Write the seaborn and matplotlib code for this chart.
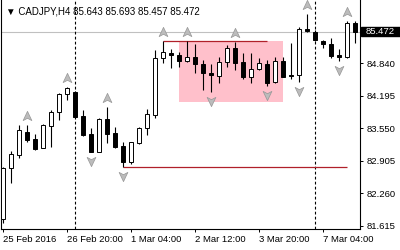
import numpy as np
import pandas as pd
import seaborn as sns
import matplotlib
matplotlib.use("Agg")
import matplotlib.pyplot as plt
from matplotlib.path import Path
from matplotlib.patches import Rectangle
import matplotlib.transforms as mtransforms

# ---------------- data ----------------
symbol_title = "\u25BC CADJPY,H4 85.643 85.693 85.457 85.472"
opens = [81.754, 82.760, 83.024, 83.486, 83.342, 83.169, 83.605, 83.871, 84.229, 84.268,
         83.798, 83.441, 83.089, 83.738, 83.455, 83.203, 82.875, 83.256, 83.554, 83.818,
         84.943, 85.042, 85.008, 84.889, 84.963, 84.824, 84.657, 84.592, 84.876, 85.141,
         84.864, 84.566, 84.725, 84.824, 84.473, 84.889, 84.612, 84.612, 85.518, 85.471,
         85.292, 85.227, 85.008, 84.963, 85.643]
highs = [82.790, 83.109, 83.619, 83.619, 83.441, 83.639, 83.917, 84.260, 84.379, 84.284,
         83.917, 83.560, 83.758, 83.971, 83.574, 83.288, 83.288, 83.574, 83.931, 85.108,
         85.292, 85.128, 85.074, 85.282, 85.227, 84.909, 84.824, 84.975, 85.207, 85.272,
         85.042, 85.042, 84.943, 84.909, 84.975, 84.975, 85.241, 85.570, 85.822, 85.495,
         85.306, 85.340, 85.122, 85.689, 85.693]
lows = [81.675, 82.474, 82.958, 83.288, 83.123, 83.157, 83.189, 83.719, 84.115, 83.772,
        83.401, 83.074, 83.083, 83.256, 83.157, 82.792, 82.839, 83.242, 83.421, 83.752,
        84.856, 84.745, 84.780, 84.870, 84.645, 84.314, 84.280, 84.459, 84.776, 84.711,
        84.526, 84.447, 84.711, 84.393, 84.447, 84.562, 84.526, 84.479, 85.471, 85.292,
        85.141, 84.943, 84.889, 84.949, 85.253]
closes = [82.766, 83.038, 83.520, 83.322, 83.137, 83.619, 83.871, 84.229, 84.348, 83.784,
          83.421, 83.089, 83.732, 83.441, 83.189, 82.885, 83.272, 83.554, 83.832, 84.943,
          85.068, 85.008, 84.883, 84.963, 84.820, 84.645, 84.612, 84.876, 85.141, 84.844,
          84.578, 84.725, 84.856, 84.459, 84.883, 84.578, 84.582, 85.518, 85.485, 85.306,
          85.221, 84.995, 84.963, 85.638, 85.472]

up_fractal_bars = [3, 8, 13, 20, 23, 29, 38, 43]
down_fractal_bars = [11, 15, 26, 33, 37, 42]

time_label_bars = [0, 8, 16, 24, 32, 40]
time_labels = ["25 Feb 2016", "26 Feb 20:00", "1 Mar 04:00", "2 Mar 12:00",
               "3 Mar 20:00", "7 Mar 04:00"]
separator_bars = [9, 39]

price_ticks = [81.615, 82.260, 82.905, 83.550, 84.195, 84.840]
current_price = 85.472

resistance_level = 85.292
resistance_bars = [20, 33]
support_level = 82.792
support_bars = [15, 43]
zone_bars = [22, 35]
zone_prices = [84.066, 85.292]

# ---------------- style ----------------
sns.set_style("white")
plt.rcParams["font.family"] = ["Liberation Sans", "DejaVu Sans"]

df = pd.DataFrame({"open": opens, "high": highs, "low": lows, "close": closes})
df["bar"] = np.arange(len(df))

fig = plt.figure(figsize=(4.0, 2.5), dpi=100)
fig.patch.set_facecolor("white")
ax = fig.add_axes([0.7 / 400, 21 / 250, 358.8 / 400, 229 / 250])
ax.set_facecolor("white")

# background objects
ax.add_patch(Rectangle((zone_bars[0], zone_prices[0]), zone_bars[1] - zone_bars[0],
                       zone_prices[1] - zone_prices[0], facecolor="#ffc0cb",
                       edgecolor="none", zorder=0.5))
ax.axhline(current_price, color="#c0c0c0", lw=0.8, zorder=0.6)
for b in separator_bars:
    ax.axvline(b, color="black", lw=0.8, ls=(0, (2.5, 2)), zorder=0.7)
ax.hlines(resistance_level, resistance_bars[0], resistance_bars[1], color="#b0202a",
          lw=0.9, zorder=1)
ax.hlines(support_level, support_bars[0], support_bars[1], color="#b0202a",
          lw=0.9, zorder=1)

# candles
ax.vlines(df["bar"], df["low"], df["high"], color="black", lw=0.8, zorder=2)
bull = df["close"] >= df["open"]
body_bottom = np.minimum(df["open"], df["close"])
body_height = np.abs(df["close"] - df["open"])
ax.bar(df["bar"], body_height, bottom=body_bottom, width=0.5,
       color=np.where(bull, "white", "black"), edgecolor="black", linewidth=0.7, zorder=3)

# fractal arrows
up_path = Path([(0, 1), (0.85, -0.8), (0, -0.35), (-0.85, -0.8), (0, 1)],
               [Path.MOVETO, Path.LINETO, Path.LINETO, Path.LINETO, Path.CLOSEPOLY])
down_path = Path([(0, -1), (0.85, 0.8), (0, 0.35), (-0.85, 0.8), (0, -1)],
                 [Path.MOVETO, Path.LINETO, Path.LINETO, Path.LINETO, Path.CLOSEPOLY])
up_df = df.loc[up_fractal_bars]
down_df = df.loc[down_fractal_bars]
up_tr = mtransforms.offset_copy(ax.transData, fig=fig, x=0, y=6.5, units="points")
dn_tr = mtransforms.offset_copy(ax.transData, fig=fig, x=0, y=-6.5, units="points")
sns.scatterplot(x=up_df["bar"], y=up_df["high"], marker=up_path, s=55, color="#bcbcbc",
                edgecolor="#969696", linewidth=0.5, transform=up_tr, ax=ax, zorder=4,
                legend=False)
sns.scatterplot(x=down_df["bar"], y=down_df["low"], marker=down_path, s=55, color="#bcbcbc",
                edgecolor="#969696", linewidth=0.5, transform=dn_tr, ax=ax, zorder=4,
                legend=False)

# axes limits
ax.set_xlim(-0.3, 44.55)
ax.set_ylim(81.555, 86.100)

# spines
for s in ["left", "bottom", "right"]:
    ax.spines[s].set_visible(True)
    ax.spines[s].set_color("black")
    ax.spines[s].set_linewidth(0.8)
ax.spines["top"].set_visible(False)

# y axis right
ax.yaxis.tick_right()
ax.set_yticks(price_ticks)
ax.set_yticklabels([f"{p:.3f}" for p in price_ticks])
ax.tick_params(axis="y", which="both", right=True, left=False, length=2.5, width=0.7,
               pad=2.5, labelsize=6.8, colors="black")

# x axis
ax.set_xticks(time_label_bars)
ax.set_xticklabels(time_labels, ha="left")
ax.tick_params(axis="x", which="both", bottom=True, length=2.5, width=0.7, pad=1.5,
               labelsize=6.8, colors="black")
ax.set_xlabel("")
ax.set_ylabel("")

# current price label box
blend = mtransforms.blended_transform_factory(ax.transAxes, ax.transData)
ax.add_patch(Rectangle((1.004, current_price - 0.092), 0.12, 0.18, transform=blend,
                       facecolor="black", edgecolor="black", clip_on=False, zorder=5))
ax.text(1.0 + 6.5 / 358.8, current_price, f"{current_price:.3f}", transform=blend,
        ha="left", va="center", color="white", fontsize=6.8, zorder=6, clip_on=False)

# title
fig.text(6 / 400, 1 - 11 / 250, symbol_title, ha="left", va="center", fontsize=7,
         color="black")

fig.savefig("out.png", dpi=100)
